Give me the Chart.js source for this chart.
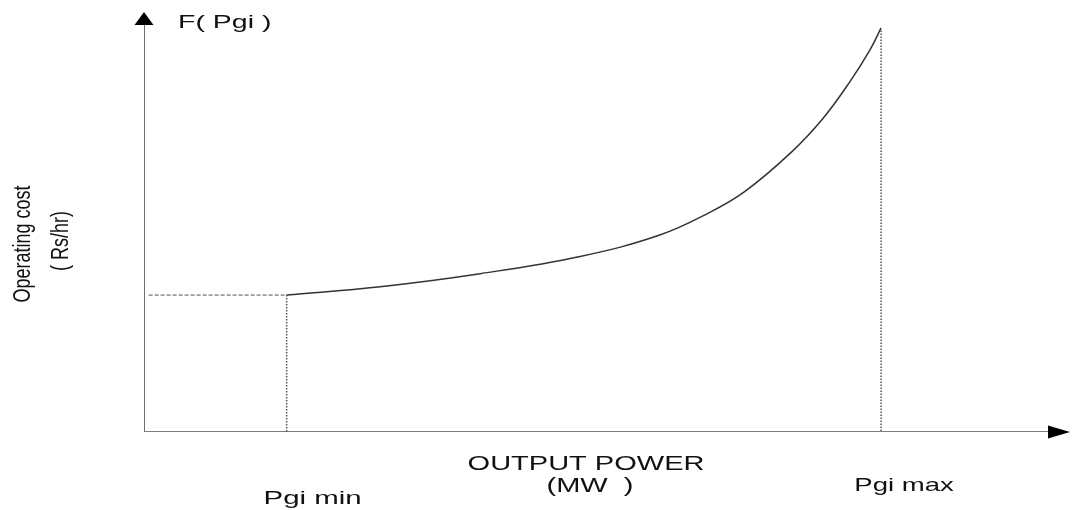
<!DOCTYPE html>
<html>
<head>
<meta charset="utf-8">
<script src="https://cdn.jsdelivr.net/npm/chart.js@4/dist/chart.umd.min.js"></script>
<style>
  body { margin: 0; background: #fff; }
  canvas { display: block; }
</style>
</head>
<body>
<canvas id="costChart" width="1073" height="510"></canvas>
<script>
// cost curve (x: output power, y: operating cost, both 0..100)
var powerX = [15.4, 25.5, 36.3, 47.1, 55.7, 61.1, 64.9, 69.8, 73.3, 76.2, 78.4, 79.6];
var costY = [32.6, 34.6, 37.7, 41.8, 46.9, 52.3, 57.3, 66.4, 74.6, 83.3, 91.0, 96.2];
var pgiMin = 15.4;
var pgiMax = 79.6;
var axisEnd = 100;

var curve = powerX.map(function (x, i) { return { x: x, y: costY[i] }; });

// arrow heads and labels, placed through the chart scales
var sketchPlugin = {
  id: 'sketch',
  afterDraw: function (chart) {
    var ctx = chart.ctx;
    var sx = chart.scales.x, sy = chart.scales.y;
    var ox = sx.getPixelForValue(0), oy = sy.getPixelForValue(0);
    var tipY = sy.getPixelForValue(axisEnd), tipX = sx.getPixelForValue(axisEnd);

    ctx.save();
    ctx.fillStyle = '#000';
    ctx.beginPath();
    ctx.moveTo(ox, tipY);
    ctx.lineTo(ox - 9.5, tipY + 13);
    ctx.lineTo(ox + 9.5, tipY + 13);
    ctx.closePath();
    ctx.fill();
    ctx.beginPath();
    ctx.moveTo(tipX, oy);
    ctx.lineTo(tipX - 22, oy - 6.5);
    ctx.lineTo(tipX - 22, oy + 6.5);
    ctx.closePath();
    ctx.fill();

    function stretched(text, x, y, size, align, k) {
      ctx.save();
      ctx.font = size + 'px "Liberation Sans", Arial, sans-serif';
      ctx.textBaseline = 'alphabetic';
      ctx.textAlign = align;
      ctx.translate(x, y);
      ctx.scale(k || 1.45, 1);
      ctx.fillText(text, 0, 0);
      ctx.restore();
    }
    function upright(text, x, y) {
      ctx.save();
      ctx.font = '18px "Liberation Sans", Arial, sans-serif';
      ctx.textAlign = 'center';
      ctx.textBaseline = 'middle';
      ctx.translate(x, y);
      ctx.rotate(-Math.PI / 2);
      ctx.scale(1, 1.35);
      ctx.fillText(text, 0, 0);
      ctx.restore();
    }
    ctx.fillStyle = '#111';
    stretched('F( Pgi )', 178, 28, 19, 'left', 1.5);
    stretched('OUTPUT POWER', 586, 470, 20, 'center');
    stretched('(MW  )', 590, 492, 20, 'center');
    stretched('Pgi min', sx.getPixelForValue(pgiMin) + 26, 504, 19, 'center', 1.55);
    stretched('Pgi max', sx.getPixelForValue(pgiMax) + 23, 491, 19, 'center');
    upright('Operating cost', 23, 244);
    upright('( Rs/hr)', 61, 241);
    ctx.restore();
  }
};

new Chart(document.getElementById('costChart'), {
  type: 'scatter',
  data: {
    datasets: [
      {
        label: 'F(Pgi)',
        data: curve,
        showLine: true,
        borderColor: '#333',
        borderWidth: 1.5,
        pointRadius: 0,
        tension: 0.4
      },
      {
        label: 'y axis',
        data: [{ x: 0, y: 0 }, { x: 0, y: 97 }],
        showLine: true,
        borderColor: '#707070',
        borderWidth: 2,
        pointRadius: 0
      },
      {
        label: 'x axis',
        data: [{ x: 0, y: 0 }, { x: 98, y: 0 }],
        showLine: true,
        borderColor: '#555',
        borderWidth: 1.5,
        pointRadius: 0
      },
      {
        label: 'min level',
        data: [{ x: 0.5, y: costY[0] }, { x: pgiMin, y: costY[0] }],
        showLine: true,
        borderColor: '#555',
        borderWidth: 1,
        borderDash: [4, 2],
        pointRadius: 0
      },
      {
        label: 'min drop',
        data: [{ x: pgiMin, y: costY[0] }, { x: pgiMin, y: 0 }],
        showLine: true,
        borderColor: '#555',
        borderWidth: 1.5,
        borderDash: [1.5, 1.5],
        pointRadius: 0
      },
      {
        label: 'max drop',
        data: [{ x: pgiMax, y: 95.6 }, { x: pgiMax, y: 0 }],
        showLine: true,
        borderColor: '#555',
        borderWidth: 1.5,
        borderDash: [1.5, 1.5],
        pointRadius: 0
      }
    ]
  },
  options: {
    responsive: false,
    animation: false,
    layout: { padding: { left: 144, right: 3, top: 12, bottom: 78 } },
    plugins: { legend: { display: false }, tooltip: { enabled: false } },
    scales: {
      x: { type: 'linear', min: 0, max: 100, display: false },
      y: { type: 'linear', min: 0, max: 100, display: false }
    }
  },
  plugins: [sketchPlugin]
});
</script>
</body>
</html>
